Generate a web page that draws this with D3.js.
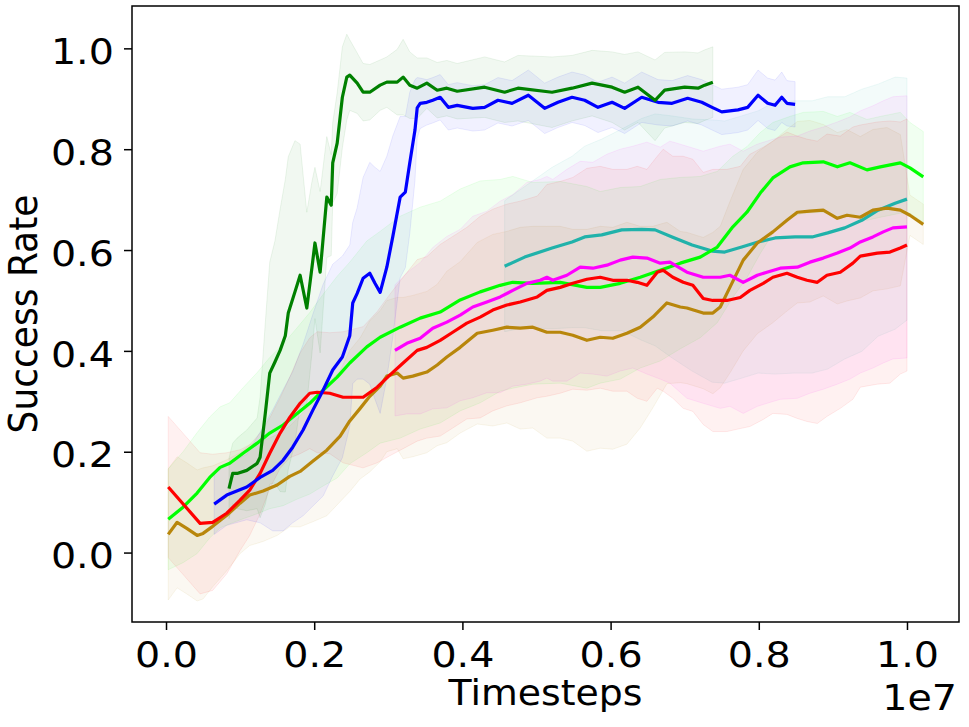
<!DOCTYPE html>
<html>
<head>
<meta charset="utf-8">
<script src="https://cdn.jsdelivr.net/npm/d3@7"></script>
<style>
  body { margin: 0; background: #fff; }
  svg { display: block; font-family: "DejaVu Sans", sans-serif; }
  .tick text { transform-box: fill-box; transform-origin: center; transform: scaleX(1.1); }
</style>
</head>
<body>
<div class="data_figure"></div>
<script>
// x values are in units of 1e7 timesteps, y is success rate, std is the band half-width
const greenX = [0.085,0.090,0.096,0.109,0.123,0.127,0.134,0.140,0.147,0.154,0.161,0.165,0.174,0.181,0.190,0.197,0.201,0.208,0.217,0.223,0.225,0.231,0.238,0.244,0.248,0.258,0.266,0.275,0.289,0.298,0.312,0.320,0.329,0.339,0.352,0.366,0.379,0.393,0.430,0.457,0.475,0.521,0.548,0.575,0.602,0.619,0.637,0.660,0.673,0.700,0.718,0.727,0.738];
const greenY = [0.127,0.157,0.157,0.163,0.177,0.189,0.276,0.356,0.378,0.401,0.430,0.475,0.517,0.550,0.485,0.566,0.614,0.556,0.705,0.689,0.773,0.812,0.903,0.943,0.947,0.931,0.913,0.913,0.927,0.933,0.933,0.943,0.927,0.921,0.931,0.917,0.921,0.915,0.923,0.913,0.921,0.913,0.921,0.931,0.923,0.913,0.923,0.897,0.917,0.923,0.921,0.927,0.933];
const greenStd = [0.06,0.06,0.07,0.08,0.09,0.12,0.18,0.22,0.24,0.28,0.31,0.31,0.30,0.26,0.19,0.17,0.15,0.16,0.12,0.10,0.08,0.10,0.10,0.085,0.07,0.06,0.057,0.055,0.05,0.05,0.065,0.075,0.066,0.06,0.05,0.055,0.055,0.055,0.06,0.06,0.065,0.07,0.065,0.065,0.07,0.075,0.07,0.08,0.075,0.07,0.07,0.07,0.07];

const blueX = [0.065,0.082,0.109,0.127,0.144,0.158,0.171,0.185,0.198,0.212,0.225,0.238,0.248,0.252,0.258,0.266,0.275,0.282,0.289,0.298,0.306,0.316,0.323,0.329,0.336,0.339,0.343,0.352,0.360,0.370,0.381,0.393,0.414,0.430,0.448,0.467,0.489,0.511,0.529,0.548,0.565,0.583,0.602,0.619,0.642,0.664,0.683,0.704,0.723,0.737,0.750,0.772,0.785,0.799,0.812,0.822,0.831,0.838,0.849];
const blueY = [0.096,0.114,0.130,0.149,0.163,0.183,0.209,0.243,0.282,0.322,0.362,0.388,0.430,0.495,0.514,0.544,0.554,0.534,0.516,0.566,0.626,0.705,0.715,0.773,0.838,0.882,0.891,0.893,0.897,0.903,0.883,0.887,0.881,0.883,0.897,0.891,0.907,0.881,0.893,0.903,0.897,0.883,0.893,0.881,0.903,0.893,0.891,0.901,0.893,0.883,0.874,0.878,0.883,0.907,0.891,0.887,0.903,0.891,0.889];
const blueStd = [0.06,0.06,0.065,0.09,0.12,0.14,0.15,0.17,0.19,0.21,0.21,0.20,0.18,0.16,0.17,0.20,0.22,0.23,0.24,0.22,0.20,0.16,0.15,0.14,0.10,0.06,0.05,0.045,0.045,0.045,0.045,0.045,0.045,0.045,0.045,0.045,0.05,0.05,0.05,0.05,0.05,0.05,0.05,0.05,0.05,0.045,0.045,0.045,0.045,0.045,0.045,0.045,0.045,0.05,0.05,0.05,0.05,0.045,0.045];

const limeX = [0.003,0.023,0.042,0.059,0.073,0.086,0.104,0.123,0.140,0.158,0.177,0.194,0.212,0.231,0.248,0.271,0.289,0.316,0.343,0.370,0.397,0.424,0.451,0.468,0.495,0.532,0.568,0.586,0.613,0.640,0.667,0.694,0.721,0.744,0.765,0.784,0.802,0.819,0.842,0.860,0.887,0.906,0.923,0.946,0.964,0.991,1.004,1.022];
const limeY = [0.066,0.090,0.118,0.149,0.169,0.177,0.197,0.217,0.237,0.253,0.276,0.296,0.322,0.348,0.376,0.408,0.427,0.447,0.465,0.477,0.501,0.517,0.530,0.536,0.534,0.536,0.526,0.526,0.534,0.546,0.560,0.574,0.586,0.606,0.646,0.675,0.713,0.743,0.765,0.773,0.775,0.765,0.773,0.759,0.765,0.773,0.763,0.745];
const limeStd = [0.10,0.11,0.12,0.12,0.12,0.12,0.13,0.14,0.15,0.16,0.17,0.18,0.19,0.20,0.20,0.21,0.21,0.22,0.22,0.22,0.22,0.22,0.21,0.21,0.20,0.20,0.20,0.19,0.19,0.18,0.18,0.17,0.16,0.15,0.14,0.13,0.12,0.11,0.10,0.10,0.10,0.10,0.10,0.10,0.10,0.10,0.09,0.09];

const redX = [0.003,0.046,0.063,0.082,0.100,0.113,0.127,0.140,0.154,0.167,0.181,0.194,0.204,0.221,0.239,0.266,0.285,0.302,0.320,0.339,0.352,0.370,0.387,0.406,0.424,0.441,0.460,0.478,0.501,0.514,0.532,0.549,0.568,0.586,0.603,0.622,0.636,0.649,0.663,0.671,0.684,0.698,0.711,0.725,0.738,0.757,0.775,0.788,0.806,0.819,0.838,0.852,0.865,0.879,0.892,0.910,0.927,0.937,0.960,0.977,0.991,1.000];
const redY = [0.130,0.058,0.060,0.078,0.104,0.124,0.157,0.197,0.237,0.268,0.296,0.316,0.318,0.316,0.308,0.308,0.328,0.352,0.376,0.401,0.407,0.421,0.437,0.455,0.467,0.481,0.491,0.497,0.507,0.520,0.526,0.534,0.542,0.546,0.540,0.540,0.536,0.530,0.556,0.560,0.546,0.536,0.530,0.504,0.500,0.500,0.506,0.520,0.534,0.546,0.554,0.546,0.540,0.536,0.550,0.556,0.574,0.588,0.594,0.596,0.604,0.610];
const redStd = [0.14,0.14,0.135,0.12,0.10,0.09,0.08,0.07,0.07,0.08,0.10,0.11,0.12,0.12,0.13,0.14,0.15,0.16,0.17,0.18,0.18,0.19,0.19,0.19,0.20,0.20,0.20,0.20,0.20,0.21,0.21,0.21,0.22,0.22,0.22,0.22,0.23,0.23,0.23,0.24,0.24,0.25,0.25,0.25,0.26,0.26,0.26,0.27,0.27,0.27,0.28,0.28,0.28,0.28,0.28,0.27,0.27,0.26,0.26,0.26,0.25,0.25];

const magentaX = [0.309,0.325,0.343,0.360,0.379,0.397,0.414,0.433,0.451,0.468,0.487,0.505,0.514,0.522,0.541,0.559,0.576,0.595,0.613,0.630,0.649,0.667,0.680,0.703,0.725,0.748,0.761,0.779,0.798,0.811,0.829,0.852,0.869,0.887,0.906,0.923,0.937,0.954,0.968,0.981,1.000];
const magentaY = [0.401,0.415,0.425,0.445,0.457,0.471,0.487,0.497,0.507,0.520,0.534,0.540,0.546,0.540,0.550,0.566,0.564,0.570,0.580,0.586,0.584,0.574,0.576,0.556,0.546,0.546,0.550,0.536,0.550,0.556,0.564,0.566,0.576,0.584,0.594,0.604,0.616,0.626,0.636,0.644,0.646];
const magentaStd = [0.13,0.14,0.15,0.16,0.17,0.17,0.18,0.18,0.19,0.19,0.20,0.20,0.20,0.20,0.21,0.21,0.21,0.22,0.22,0.22,0.23,0.23,0.24,0.25,0.25,0.26,0.26,0.26,0.26,0.26,0.26,0.26,0.26,0.26,0.26,0.26,0.26,0.26,0.26,0.26,0.26];

const tealX = [0.457,0.484,0.521,0.548,0.565,0.588,0.615,0.642,0.660,0.683,0.710,0.737,0.754,0.777,0.799,0.822,0.849,0.872,0.893,0.916,0.939,0.961,0.984,1.000];
const tealY = [0.568,0.586,0.604,0.616,0.626,0.630,0.640,0.641,0.640,0.626,0.610,0.598,0.596,0.606,0.616,0.624,0.626,0.626,0.634,0.644,0.659,0.679,0.693,0.701];
const tealStd = [0.13,0.14,0.16,0.17,0.18,0.19,0.20,0.22,0.23,0.24,0.25,0.26,0.26,0.26,0.26,0.27,0.27,0.27,0.27,0.26,0.26,0.25,0.25,0.24];

const goldX = [0.003,0.015,0.028,0.042,0.050,0.063,0.082,0.100,0.113,0.131,0.150,0.167,0.181,0.198,0.217,0.235,0.248,0.262,0.275,0.289,0.298,0.312,0.320,0.333,0.352,0.366,0.379,0.397,0.420,0.441,0.460,0.478,0.495,0.514,0.532,0.549,0.568,0.586,0.603,0.622,0.640,0.657,0.676,0.694,0.703,0.725,0.738,0.748,0.761,0.779,0.798,0.819,0.838,0.852,0.869,0.887,0.906,0.919,0.937,0.954,0.973,0.991,1.004,1.022];
const goldY = [0.036,0.060,0.048,0.034,0.038,0.052,0.074,0.098,0.114,0.122,0.134,0.151,0.161,0.181,0.203,0.231,0.261,0.286,0.310,0.330,0.350,0.356,0.346,0.350,0.358,0.372,0.388,0.407,0.435,0.441,0.447,0.445,0.447,0.437,0.437,0.431,0.421,0.427,0.425,0.435,0.447,0.467,0.495,0.487,0.485,0.475,0.475,0.487,0.526,0.580,0.614,0.636,0.659,0.675,0.677,0.679,0.663,0.669,0.665,0.679,0.683,0.679,0.669,0.651];
const goldStd = [0.13,0.13,0.13,0.13,0.13,0.12,0.11,0.10,0.10,0.10,0.10,0.10,0.11,0.12,0.13,0.13,0.14,0.14,0.15,0.15,0.15,0.15,0.16,0.16,0.16,0.16,0.17,0.17,0.18,0.19,0.19,0.20,0.20,0.21,0.21,0.21,0.22,0.22,0.22,0.22,0.20,0.18,0.16,0.15,0.15,0.15,0.16,0.16,0.17,0.18,0.18,0.18,0.18,0.18,0.18,0.17,0.17,0.17,0.16,0.16,0.16,0.15,0.04,0.04];

const xTicks = [0.0, 0.2, 0.4, 0.6, 0.8, 1.0];
const yTicks = [0.0, 0.2, 0.4, 0.6, 0.8, 1.0];

const widthMax = 969;
const heightMax = 727;
const frame = { left: 132, right: 959, top: 6, bottom: 622 };

// series in drawing order (later = on top)
const series = [
    { x: tealX, y: tealY, s: tealStd, color: "#20b2aa" },
    { x: limeX, y: limeY, s: limeStd, color: "#00ff00" },
    { x: goldX, y: goldY, s: goldStd, color: "#b8860b" },
    { x: magentaX, y: magentaY, s: magentaStd, color: "#ff00ff" },
    { x: redX, y: redY, s: redStd, color: "#ff0000" },
    { x: blueX, y: blueY, s: blueStd, color: "#0000ff" },
    { x: greenX, y: greenY, s: greenStd, color: "#008000" },
];

function drawChart() {
    const xScale = d3.scaleLinear()
            .domain([-0.0459, 1.0702])
            .range([frame.left, frame.right]);
    const yScale = d3.scaleLinear()
            .domain([-0.1377, 1.084])
            .range([frame.bottom, frame.top]);

    let svg = d3.select(".data_figure")
                .append("svg")
                .attr("width", widthMax)
                .attr("height", heightMax);

    svg.append("defs").append("clipPath")
        .attr("id", "plot-clip")
        .append("rect")
        .attr("x", frame.left)
        .attr("y", frame.top)
        .attr("width", frame.right - frame.left)
        .attr("height", frame.bottom - frame.top);

    const plot = svg.append("g").attr("clip-path", "url(#plot-clip)");

    const area = d3.area()
            .x((d) => xScale(d.x))
            .y0((d) => yScale(d.y - d.s))
            .y1((d) => yScale(d.y + d.s));
    const line = d3.line()
            .x((d) => xScale(d.x))
            .y((d) => yScale(d.y));

    const rows = series.map((ser) => ser.x.map((x, i) => ({ x: x, y: ser.y[i], s: ser.s[i] })));

    // std bands
    series.forEach((ser, k) => {
        plot.append("path")
            .datum(rows[k])
            .attr("d", area)
            .attr("fill", ser.color)
            .attr("fill-opacity", 0.055)
            .attr("stroke", ser.color)
            .attr("stroke-opacity", 0.08)
            .attr("stroke-width", 1);
    });

    // mean lines
    series.forEach((ser, k) => {
        plot.append("path")
            .datum(rows[k])
            .attr("d", line)
            .attr("fill", "none")
            .attr("stroke", ser.color)
            .attr("stroke-width", 3.2)
            .attr("stroke-linejoin", "round");
    });

    // x axis
    svg.append("g")
        .attr("transform", "translate(0," + frame.bottom + ")")
        .call(d3.axisBottom(xScale)
                .tickValues(xTicks)
                .tickFormat(d3.format(".1f"))
                .tickSize(8)
                .tickSizeOuter(0))
        .call((g) => g.select(".domain").remove())
        .call((g) => g.selectAll(".tick line").attr("stroke", "#000").attr("stroke-width", 1.5))
        .call((g) => g.selectAll(".tick text")
                .attr("y", 45)
                .attr("dy", 0)
                .attr("fill", "#000")
                .style("font-size", "36px")
                .style("font-family", "DejaVu Sans"));

    // y axis
    svg.append("g")
        .attr("transform", "translate(" + frame.left + ",0)")
        .call(d3.axisLeft(yScale)
                .tickValues(yTicks)
                .tickFormat(d3.format(".1f"))
                .tickSize(8)
                .tickPadding(13)
                .tickSizeOuter(0))
        .call((g) => g.select(".domain").remove())
        .call((g) => g.selectAll(".tick line").attr("stroke", "#000").attr("stroke-width", 1.5))
        .call((g) => g.selectAll(".tick text")
                .attr("dy", "0.42em")
                .attr("fill", "#000")
                .style("font-size", "36px")
                .style("font-family", "DejaVu Sans"));

    // frame
    svg.append("rect")
        .attr("x", frame.left)
        .attr("y", frame.top)
        .attr("width", frame.right - frame.left)
        .attr("height", frame.bottom - frame.top)
        .attr("fill", "none")
        .attr("stroke", "#000")
        .attr("stroke-width", 1.5);

    // labels
    svg.append("text")
        .text("Timesteps")
        .attr("transform", "translate(" + ((frame.left + frame.right) / 2) + ",705) scale(1.08,1)")
        .attr("text-anchor", "middle")
        .style("font-size", "35px");

    svg.append("text")
        .text("1e7")
        .attr("transform", "translate(957,710) scale(1.1,1)")
        .attr("text-anchor", "end")
        .style("font-size", "36px");

    svg.append("text")
        .text("Success Rate")
        .attr("transform", "translate(37," + ((frame.top + frame.bottom) / 2) + ") scale(1.1,1) rotate(-90)")
        .attr("text-anchor", "middle")
        .style("font-size", "36px");
}

drawChart();
</script>
</body>
</html>
